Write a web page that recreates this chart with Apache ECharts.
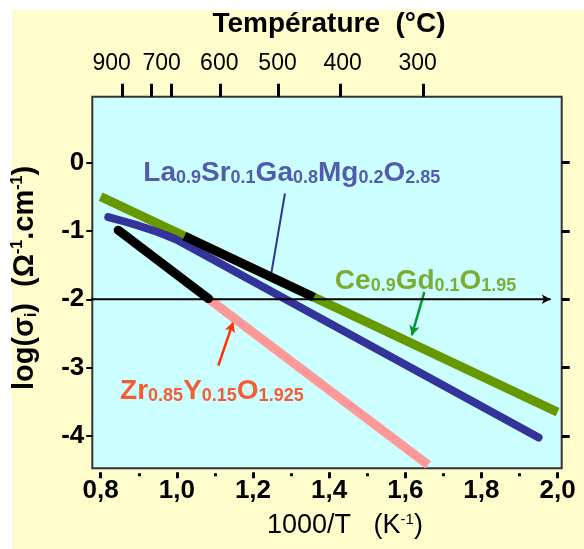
<!DOCTYPE html>
<html>
<head>
<meta charset="utf-8">
<script src="https://cdn.jsdelivr.net/npm/echarts@6/dist/echarts.min.js"></script>
<style>
html,body{margin:0;padding:0;background:#fff;}
#c{width:584px;height:549px;}
</style>
</head>
<body>
<div id="c"></div>
<script>
// ---------- data (1000/T in K^-1, log sigma) ----------
var xTickValues = [0.8, 0.9, 1.0, 1.1, 1.2, 1.3, 1.4, 1.5, 1.6, 1.7, 1.8, 1.9, 2.0];
var xLabelValues = [0.8, 1.0, 1.2, 1.4, 1.6, 1.8, 2.0];
var yLabelValues = [0, -1, -2, -3, -4];
var topTempLabels = ['900', '700', '600', '500', '400', '300'];
var topLabelAt = [0.829, 0.960, 1.1115, 1.2645, 1.4355, 1.6325];
var topTickAt = [0.8567, 0.934, 0.9865, 1.1134, 1.2665, 1.4286, 1.6474];

var ceriaLine = [[0.8, -0.50], [2.0, -3.65]];
var ceriaMeasured = [[1.02, -1.078], [1.36, -1.97]];
var lsgmLine = [[0.82, -0.80], [0.86, -0.86], [0.90, -0.925], [0.94, -1.0], [0.97, -1.06], [1.0, -1.13], [1.95, -4.02]];
var yszMeasured = [[0.846, -0.99], [1.083, -1.99]];
var yszLine = [[1.083, -1.99], [1.66, -4.42]];
var refLine = [[0.762, -2], [1.982, -2]];

var lsgmParts = [['La', '0.9'], ['Sr', '0.1'], ['Ga', '0.8'], ['Mg', '0.2'], ['O', '2.85']];
var ceriaParts = [['Ce', '0.9'], ['Gd', '0.1'], ['O', '1.95']];
var yszParts = [['Zr', '0.85'], ['Y', '0.15'], ['O', '1.925']];

var lsgmLabelAt = [0.912, -0.14];
var ceriaLabelAt = [1.415, -1.72];
var yszLabelAt = [0.851, -3.33];
var lsgmPointer = [[1.284, -0.454], [1.245, -1.723]];
var ceriaPointer = [[1.650, -1.895], [1.617, -2.529]];
var yszPointer = [[1.109, -2.968], [1.148, -2.334]];

// ---------- helpers ----------
var FONT = 'Liberation Sans';
function formula(parts) {
  return parts.map(function (p) { return '{m|' + p[0] + '}{s|' + p[1] + '}'; }).join('');
}
function formulaRich(color) {
  return {
    m: { fontFamily: FONT, fontSize: 28, fontWeight: 'bold', color: color, lineHeight: 30, verticalAlign: 'bottom' },
    s: { fontFamily: FONT, fontSize: 18, fontWeight: 'bold', color: color, lineHeight: 13, verticalAlign: 'bottom' }
  };
}
function labelSeries(at, parts, color) {
  return {
    type: 'scatter', data: [at], symbolSize: 0, silent: true, z: 20,
    label: {
      show: true, position: [0, 0], align: 'left', verticalAlign: 'middle',
      formatter: formula(parts), rich: formulaRich(color)
    }
  };
}
function pointerSeries(pts, color, width, arrowSize) {
  return {
    type: 'line', data: [], silent: true, z: 20,
    markLine: {
      silent: true, symbol: ['none', 'arrow'], symbolSize: arrowSize,
      label: { show: false },
      lineStyle: { color: color, width: width, type: 'solid' },
      emphasis: { disabled: true },
      data: [[{ coord: pts[0] }, { coord: pts[1] }]]
    }
  };
}
var X_MIN = 0.778, X_MAX = 2.0108, Y_MIN = -4.47, Y_MAX = 0.96;

var chart = echarts.init(document.getElementById('c'), null, { renderer: 'canvas' });
var option = {
  backgroundColor: '#FFFDCC',
  animation: false,
  textStyle: { fontFamily: FONT },
  grid: {
    left: 92.3, top: 96.7, right: 22.3, bottom: 80.7,
    show: true, backgroundColor: '#CCFFFF', borderColor: '#333333', borderWidth: 2
  },
  graphic: [
    { type: 'rect', shape: { x: 0, y: 0, width: 584, height: 10 }, style: { fill: '#ffffff' }, silent: true },
    { type: 'rect', shape: { x: 0, y: 0, width: 12, height: 549 }, style: { fill: '#ffffff' }, silent: true },
    { type: 'text', x: 329, y: 24, silent: true, style: { text: 'Température  (°C)', align: 'center', verticalAlign: 'middle', fontFamily: FONT, fontSize: 28, fontWeight: 'bold', fill: '#000' } },
    {
      type: 'text', x: 345, y: 526, silent: true,
      style: {
        text: '{m|1000/T   (K}{p|-1}{m|)}', align: 'center', verticalAlign: 'middle',
        rich: {
          m: { fontFamily: FONT, fontSize: 27, fill: '#000', lineHeight: 28, verticalAlign: 'top' },
          p: { fontFamily: FONT, fontSize: 15, fill: '#000', lineHeight: 16, verticalAlign: 'top' }
        }
      }
    },
    {
      type: 'text', x: 25, y: 278, rotation: Math.PI / 2, silent: true,
      style: {
        text: '{m|log(σ}{b|i}{m|)  (Ω}{p|-1}{m|.cm}{p|-1}{m|)}', align: 'center', verticalAlign: 'middle',
        rich: {
          m: { fontFamily: FONT, fontSize: 29, fontWeight: 'bold', fill: '#000', lineHeight: 30, verticalAlign: 'middle' },
          b: { fontFamily: FONT, fontSize: 16, fontWeight: 'bold', fill: '#000', lineHeight: 12, verticalAlign: 'bottom' },
          p: { fontFamily: FONT, fontSize: 16, fontWeight: 'bold', fill: '#000', lineHeight: 12, verticalAlign: 'top' }
        }
      }
    }
  ],
  xAxis: [
    {
      type: 'value', min: X_MIN, max: X_MAX, position: 'bottom', offset: 4,
      axisLine: { show: false, onZero: false }, splitLine: { show: false },
      axisTick: { show: true, customValues: xLabelValues, length: 6, lineStyle: { color: '#000', width: 3 } },
      axisLabel: {
        customValues: xLabelValues, margin: 6, color: '#000', fontSize: 26, fontWeight: 'bold', fontFamily: FONT,
        formatter: function (v) { return v.toFixed(1).replace('.', ','); }
      }
    },
    {
      type: 'value', min: X_MIN, max: X_MAX, position: 'bottom', offset: 5,
      axisLine: { show: false, onZero: false }, splitLine: { show: false },
      axisTick: { show: true, customValues: xTickValues.filter(function (v, i) { return i % 2 === 1; }), length: 3, lineStyle: { color: '#000', width: 3 } },
      axisLabel: { show: false }
    },
    {
      type: 'value', min: X_MIN, max: X_MAX, position: 'top',
      axisLine: { show: false, onZero: false }, splitLine: { show: false },
      axisTick: { show: true, customValues: topTickAt, length: 13, lineStyle: { color: '#000', width: 3 } },
      axisLabel: {
        customValues: topLabelAt, margin: 22, color: '#000', fontSize: 23, fontFamily: FONT,
        formatter: function (v) {
          for (var i = 0; i < topLabelAt.length; i++) { if (Math.abs(topLabelAt[i] - v) < 1e-6) return topTempLabels[i]; }
          return '';
        }
      }
    }
  ],
  yAxis: [
    {
      type: 'value', min: Y_MIN, max: Y_MAX, position: 'left',
      axisLine: { show: false, onZero: false }, splitLine: { show: false },
      axisTick: { show: true, customValues: yLabelValues, length: 6, lineStyle: { color: '#000', width: 2 } },
      axisLabel: { customValues: yLabelValues, margin: 8, color: '#000', fontSize: 26, fontWeight: 'bold', fontFamily: FONT }
    },
    {
      type: 'value', min: Y_MIN, max: Y_MAX, position: 'right',
      axisLine: { show: false, onZero: false }, splitLine: { show: false },
      axisTick: { show: true, customValues: yLabelValues, length: 8, lineStyle: { color: '#000', width: 3 } },
      axisLabel: { show: false }
    }
  ],
  series: [
    { name: 'Ce0.9Gd0.1O1.95', type: 'line', data: ceriaLine, symbol: 'none', z: 3, lineStyle: { color: '#669900', width: 9, cap: 'butt' } },
    { name: 'LSGM', type: 'line', data: lsgmLine, symbol: 'none', z: 4, lineStyle: { color: '#333399', width: 8, cap: 'round', join: 'round' } },
    { name: 'Ceria measured', type: 'line', data: ceriaMeasured, symbol: 'none', z: 5, lineStyle: { color: '#000000', width: 9, cap: 'butt' } },
    { name: 'YSZ', type: 'line', data: yszLine, symbol: 'none', z: 5, lineStyle: { color: '#FF9999', width: 9, cap: 'butt' } },
    { name: 'YSZ measured', type: 'line', data: yszMeasured, symbol: 'none', z: 6, lineStyle: { color: '#000000', width: 9, cap: 'round' } },
    {
      name: 'ref', type: 'line', symbol: 'none', clip: false, z: 10,
      data: [{ value: refLine[0] }, { value: refLine[1], symbol: 'arrow', symbolSize: [7, 9], symbolRotate: -90, itemStyle: { color: '#000' } }],
      showSymbol: true, showAllSymbol: true,
      lineStyle: { color: '#000', width: 2 }
    },
    pointerSeries(lsgmPointer, '#333399', 2, [5, 7]),
    pointerSeries(ceriaPointer, '#009933', 2.5, [8, 10]),
    pointerSeries(yszPointer, '#FF3300', 2.5, [8, 10]),
    labelSeries(lsgmLabelAt, lsgmParts, '#333399'),
    labelSeries(ceriaLabelAt, ceriaParts, '#669900'),
    labelSeries(yszLabelAt, yszParts, '#FF3300')
  ]
};
chart.setOption(option);
</script>
</body>
</html>
